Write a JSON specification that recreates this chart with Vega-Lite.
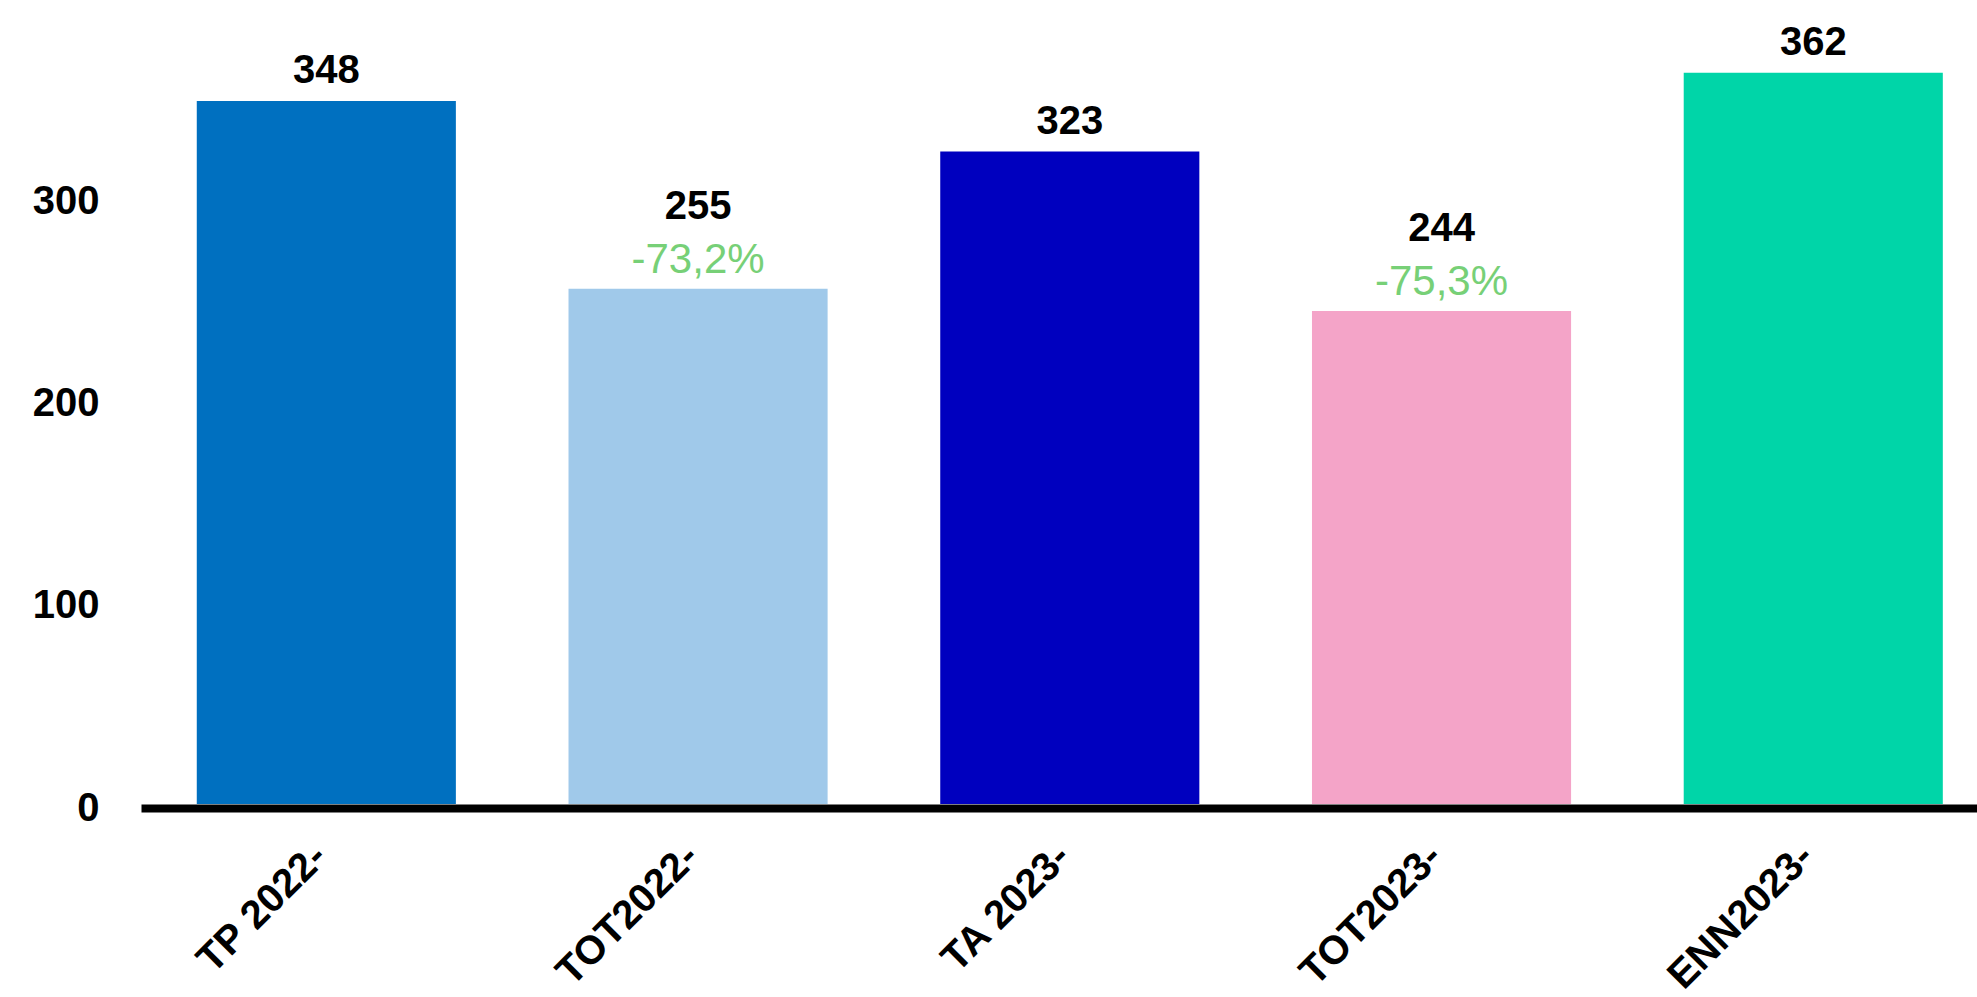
{
  "$schema": "https://vega.github.io/schema/vega-lite/v6.json",
  "width": 1836,
  "height": 804,
  "autosize": {"type": "none"},
  "padding": {"left": 141, "top": 0, "right": 0, "bottom": 193},
  "background": "white",
  "config": {"view": {"stroke": null}, "font": "Liberation Sans"},
  "data": {"values": [
    {"cat": "TP 2022-", "value": 348, "pct": null},
    {"cat": "TOT2022-", "value": 255, "pct": "-73,2%"},
    {"cat": "TA 2023-", "value": 323, "pct": null},
    {"cat": "TOT2023-", "value": 244, "pct": "-75,3%"},
    {"cat": "ENN2023-", "value": 362, "pct": null}
  ]},
  "encoding": {
    "x": {"field": "cat", "type": "nominal", "sort": null,
      "scale": {"paddingInner": 0.303, "paddingOuter": 0.121, "align": 0.62},
      "axis": {"title": null, "labelAngle": -45, "labelFontSize": 40, "labelFontWeight": "bold", "labelColor": "black", "labelLimit": 0,
        "domainColor": "black", "domainWidth": 8, "offset": 4, "ticks": false, "labelPadding": 42, "labelOffset": -6, "labelAlign": "right", "labelBaseline": "middle"}},
    "y": {"field": "value", "type": "quantitative",
      "scale": {"domain": [0, 398]},
      "axis": {"title": null, "values": [0, 100, 200, 300], "grid": false, "domain": false, "ticks": false,
        "labelFontSize": 40, "labelFontWeight": "bold", "labelColor": "black", "labelPadding": 42, "labelOffset": 4}}
  },
  "layer": [
    {"mark": {"type": "bar"},
     "encoding": {"color": {"field": "cat", "type": "nominal", "sort": null, "legend": null,
       "scale": {"domain": ["TP 2022-", "TOT2022-", "TA 2023-", "TOT2023-", "ENN2023-"],
                 "range": ["#0070C0", "#A0C9EA", "#0000BF", "#F4A4C8", "#00D5A8"]}}}},
    {"transform": [{"filter": "datum.pct == null"}],
     "mark": {"type": "text", "fontSize": 40, "fontWeight": "bold", "color": "black", "dy": -30, "baseline": "middle"},
     "encoding": {"text": {"field": "value", "type": "quantitative"}}},
    {"transform": [{"filter": "datum.pct != null"}],
     "mark": {"type": "text", "fontSize": 40, "fontWeight": "bold", "color": "black", "dy": -82, "baseline": "middle"},
     "encoding": {"text": {"field": "value", "type": "quantitative"}}},
    {"transform": [{"filter": "datum.pct != null"}],
     "mark": {"type": "text", "fontSize": 42, "color": "#77D077", "dy": -29, "baseline": "middle"},
     "encoding": {"text": {"field": "pct", "type": "nominal"}}}
  ]
}
